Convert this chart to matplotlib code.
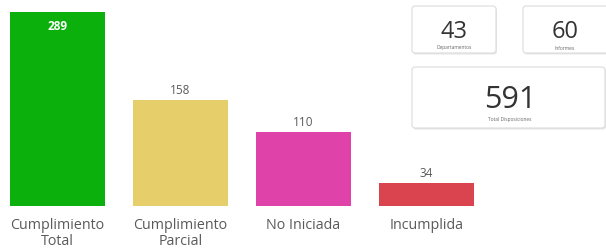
import matplotlib
matplotlib.use("Agg")
import matplotlib.pyplot as plt
from matplotlib.patches import FancyBboxPatch

categories = ["Cumplimiento\nTotal", "Cumplimiento\nParcial", "No Iniciada", "Incumplida"]
values = [289, 158, 110, 34]
colors = ["#0CB00C", "#E6CF6A", "#DF42A8", "#D9444F"]

card_values = ["43", "60", "591"]
card_labels = ["Departamentos", "Informes", "Total Disposiciones"]

plt.rcParams['font.family'] = ['Open Sans', 'DejaVu Sans']

W, H = 606, 251
fig = plt.figure(figsize=(W / 100, H / 100), dpi=100)

# bar axes: baseline at 207 px from top
base = 44
scale = 0.671
ax = fig.add_axes([0, base / H, 1, (H - base) / H])
ax.set_xlim(-57.5 / 123, (W - 57.5) / 123)
ax.set_ylim(0, (H - base) / scale)
x = list(range(len(values)))
ax.bar(x, values, width=0.77, color=colors)
for i, v in enumerate(values):
    if i == 0:
        ax.text(i, v - 11, str(v), ha="center", va="top", color="white",
                fontsize=8.5, fontweight="bold")
    else:
        ax.text(i, v + 6, str(v), ha="center", va="bottom", color="#5a5a5a",
                fontsize=8.5)
ax.set_xticks(x)
ax.set_xticklabels(categories, fontsize=10.3, color="#5a5a5a", linespacing=1.1)
ax.tick_params(axis="x", length=0, pad=8)
ax.tick_params(axis="y", left=False, labelleft=False)
for s in ax.spines.values():
    s.set_visible(False)
ax.patch.set_alpha(0)

# cards overlay in pixel coords
cax = fig.add_axes([0, 0, 1, 1])
cax.set_xlim(0, W)
cax.set_ylim(H, 0)
cax.axis("off")
cax.patch.set_alpha(0)

cards = [(412, 7, 84, 47), (523, 7, 90, 47), (412, 68, 193, 61)]
for (cx, cy, cw, ch) in cards:
    sh = FancyBboxPatch((cx + 1, cy + 1.5), cw, ch, boxstyle="round,pad=0,rounding_size=3",
                        facecolor="#e6e6e6", edgecolor="none", zorder=1)
    cax.add_patch(sh)
    p = FancyBboxPatch((cx, cy), cw, ch, boxstyle="round,pad=0,rounding_size=3",
                       facecolor="white", edgecolor="#dcdcdc", linewidth=0.8, zorder=2)
    cax.add_patch(p)

cax.text(454, 32, card_values[0], ha="center", va="center", fontsize=17, color="#333333", zorder=3)
cax.text(454, 48, card_labels[0], ha="center", va="center", fontsize=3.5, color="#666666", zorder=3)
cax.text(565, 32, card_values[1], ha="center", va="center", fontsize=17, color="#333333", zorder=3)
cax.text(565, 48, card_labels[1], ha="center", va="center", fontsize=3.5, color="#666666", zorder=3)
cax.text(510, 100, card_values[2], ha="center", va="center", fontsize=22, color="#333333", zorder=3)
cax.text(510, 120, card_labels[2], ha="center", va="center", fontsize=3.5, color="#666666", zorder=3)

fig.savefig("out.png", dpi=100)
